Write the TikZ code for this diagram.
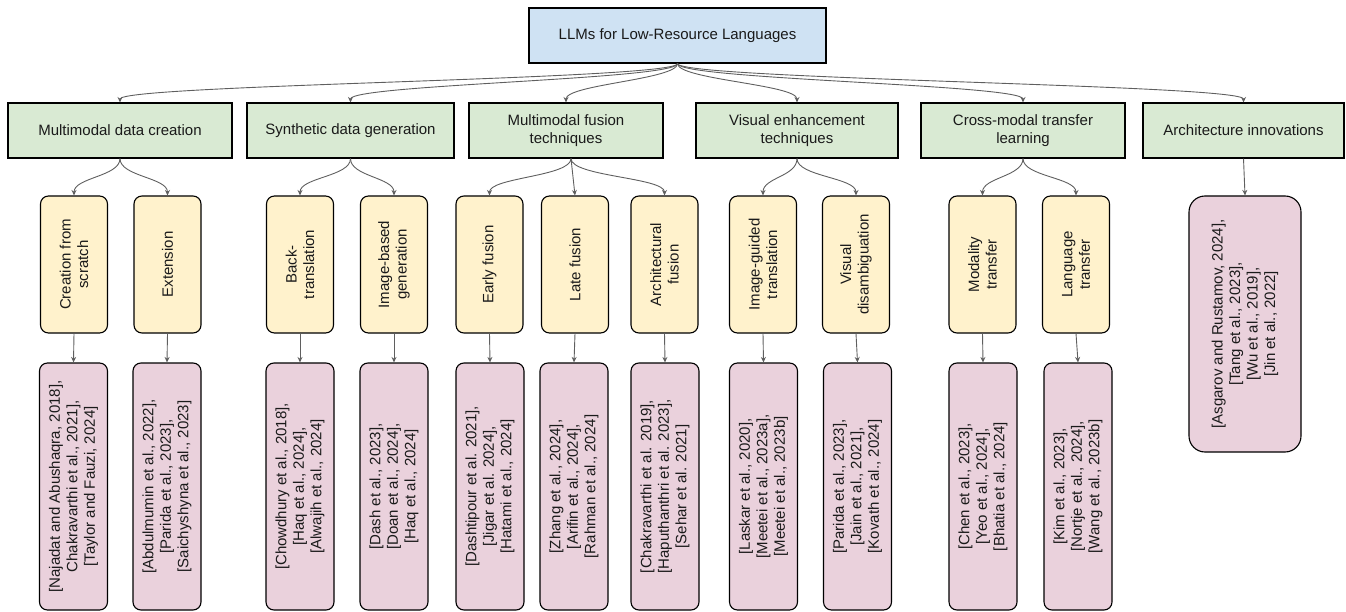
\documentclass[tikz,border=0pt]{standalone}
\usepackage{fontspec}
\setmainfont{Liberation Sans}
\usetikzlibrary{arrows.meta}
\definecolor{rootblue}{HTML}{CFE2F3}
\definecolor{catgreen}{HTML}{D9EAD3}
\definecolor{subyellow}{HTML}{FFF2CC}
\definecolor{refpink}{HTML}{EAD1DC}
\definecolor{edgegray}{HTML}{5F5F5F}
\definecolor{txt}{HTML}{1A1A1A}
\begin{document}
\begin{tikzpicture}[x=1pt,y=-1pt,
  every node/.style={font=\fontsize{15}{17.5}\selectfont, inner sep=0pt, text=txt},
  rootbox/.style={draw, line width=1.1pt, fill=rootblue, minimum width=297pt, minimum height=55pt},
  catbox/.style={draw, line width=1.1pt, fill=catgreen, minimum height=55pt, align=center},
  subbox/.style={draw, line width=1.1pt, fill=subyellow, rounded corners=8pt, minimum width=67pt, minimum height=137pt},
  refbox/.style={draw, line width=1.1pt, fill=refpink, rounded corners=8pt, minimum width=68pt, minimum height=247pt},
  vlabel/.style={rotate=90, align=center},
  conn/.style={draw=edgegray, line width=0.9pt, -{Stealth[length=5.5pt,width=5pt]}},
]
\useasboundingbox (0,0) rectangle (1346,612);

% root
\node[rootbox] (root) at (677.5,35.5) {LLMs for Low-Resource Languages};

% level 1
\node[catbox, minimum width=224pt] (m1) at (120,130.5) {Multimodal data creation};
\node[catbox, minimum width=207pt] (m2) at (350.5,130.5) {Synthetic data generation};
\node[catbox, minimum width=194pt] (m3) at (566,130.5) {Multimodal fusion\\techniques};
\node[catbox, minimum width=202pt] (m4) at (797,130.5) {Visual enhancement\\techniques};
\node[catbox, minimum width=204pt] (m5) at (1023,130.5) {Cross-modal transfer\\learning};
\node[catbox, minimum width=201pt] (m6) at (1243.5,130.5) {Architecture innovations};

% level 2 boxes
\node[subbox] (y1) at (74,264.5) {};
\node[subbox] (y2) at (167.5,264.5) {};
\node[subbox] (y3) at (300,264.5) {};
\node[subbox] (y4) at (394,264.5) {};
\node[subbox] (y5) at (489.5,264.5) {};
\node[subbox] (y6) at (575,264.5) {};
\node[subbox] (y7) at (664.5,264.5) {};
\node[subbox] (y8) at (763,264.5) {};
\node[subbox] (y9) at (856,264.5) {};
\node[subbox] (y10) at (982.5,264.5) {};
\node[subbox] (y11) at (1076,264.5) {};
% level 2 labels
\node[vlabel] (y1t) at (y1) {Creation from\\scratch};
\node[vlabel] (y2t) at (y2) {Extension};
\node[vlabel] (y3t) at (y3) {Back-\\translation};
\node[vlabel] (y4t) at (y4) {Image-based\\generation};
\node[vlabel] (y5t) at (y5) {Early fusion};
\node[vlabel] (y6t) at (y6) {Late fusion};
\node[vlabel] (y7t) at (y7) {Architectural\\fusion};
\node[vlabel] (y8t) at (y8) {Image-guided\\translation};
\node[vlabel] (y9t) at (y9) {Visual\\disambiguation};
\node[vlabel] (y10t) at (y10) {Modality\\transfer};
\node[vlabel] (y11t) at (y11) {Language\\transfer};

% reference boxes
\node[refbox] (p1) at (73.5,486.5) {};
\node[refbox] (p2) at (167,486.5) {};
\node[refbox] (p3) at (300,486.5) {};
\node[refbox] (p4) at (394,486.5) {};
\node[refbox] (p5) at (490,486.5) {};
\node[refbox] (p6) at (574,486.5) {};
\node[refbox] (p7) at (665,486.5) {};
\node[refbox] (p8) at (763.5,486.5) {};
\node[refbox] (p9) at (857.5,486.5) {};
\node[refbox] (p10) at (983,486.5) {};
\node[refbox] (p11) at (1078,486.5) {};
\node[refbox, minimum width=112pt, minimum height=256pt, rounded corners=16pt] (p12) at (1245,324) {};
% reference labels
\node[vlabel] (p1t) at (p1) {{[}Najadat and Abushaqra, 2018],\\Chakravarthi et al., 2021],\\{[}Taylor and Fauzi, 2024]};
\node[vlabel] (p2t) at (p2) {{[}Abdulmumin et al., 2022],\\{[}Parida et al., 2023],\\{[}Saichyshyna et al., 2023]};
\node[vlabel] (p3t) at (p3) {{[}Chowdhury et al., 2018],\\{[}Haq et al., 2024],\\{[}Alwajih et al., 2024]};
\node[vlabel] (p4t) at (p4) {{[}Dash et al., 2023],\\{[}Doan et al., 2024],\\{[}Haq et al., 2024]};
\node[vlabel] (p5t) at (p5) {{[}Dashtipour et al. 2021],\\{[}Jigar et al. 2024],\\{[}Hatami et al., 2024]};
\node[vlabel] (p6t) at (p6) {{[}Zhang et al., 2024],\\{[}Arifin et al., 2024],\\{[}Rahman et al., 2024]};
\node[vlabel] (p7t) at (p7) {{[}Chakravarthi et al. 2019],\\{[}Haputhanthri et al. 2023],\\{[}Sehar et al. 2021]};
\node[vlabel] (p8t) at (p8) {{[}Laskar et al., 2020],\\{[}Meetei et al., 2023a],\\{[}Meetei et al., 2023b]};
\node[vlabel] (p9t) at (p9) {{[}Parida et al., 2023],\\{[}Jain et al., 2021],\\{[}Kovath et al., 2024]};
\node[vlabel] (p10t) at (p10) {{[}Chen et al., 2023],\\{[}Yeo et al., 2024],\\{[}Bhatia et al., 2024]};
\node[vlabel] (p11t) at (p11) {{[}Kim et al., 2023],\\{[}Nortje et al., 2024],\\{[}Wang et al., 2023b]};
\node[vlabel] (p12t) at (p12) {{[}Asgarov and Rustamov, 2024],\\{[}Tang et al., 2023],\\{[}Wu et al., 2019],\\{[}Jin et al., 2022]};

% root -> level 1
\foreach \m in {m1,m2,m3,m4,m5,m6}
  \draw[conn] (root.south) .. controls +(0,16) and +(0,-18) .. (\m.north);

% level 1 -> level 2
\draw[conn] (m1.south) .. controls +(0,18) and +(0,-18) .. (y1.north);
\draw[conn] (m1.south) .. controls +(0,18) and +(0,-18) .. (y2.north);
\draw[conn] (m2.south) .. controls +(0,18) and +(0,-18) .. (y3.north);
\draw[conn] (m2.south) .. controls +(0,18) and +(0,-18) .. (y4.north);
\draw[conn] ([xshift=5pt]m3.south) .. controls +(0,18) and +(0,-18) .. (y5.north);
\draw[conn] ([xshift=5pt]m3.south) -- (y6.north);
\draw[conn] ([xshift=5pt]m3.south) .. controls +(0,18) and +(0,-18) .. (y7.north);
\draw[conn] (m4.south) .. controls +(0,18) and +(0,-18) .. (y8.north);
\draw[conn] (m4.south) .. controls +(0,18) and +(0,-18) .. (y9.north);
\draw[conn] (m5.south) .. controls +(0,18) and +(0,-18) .. (y10.north);
\draw[conn] (m5.south) .. controls +(0,18) and +(0,-18) .. (y11.north);
\draw[conn] (m6.south) -- (p12.north);

% level 2 -> references
\foreach \i in {1,...,11}
  \draw[conn] (y\i.south) -- (p\i.north);
\end{tikzpicture}
\end{document}
